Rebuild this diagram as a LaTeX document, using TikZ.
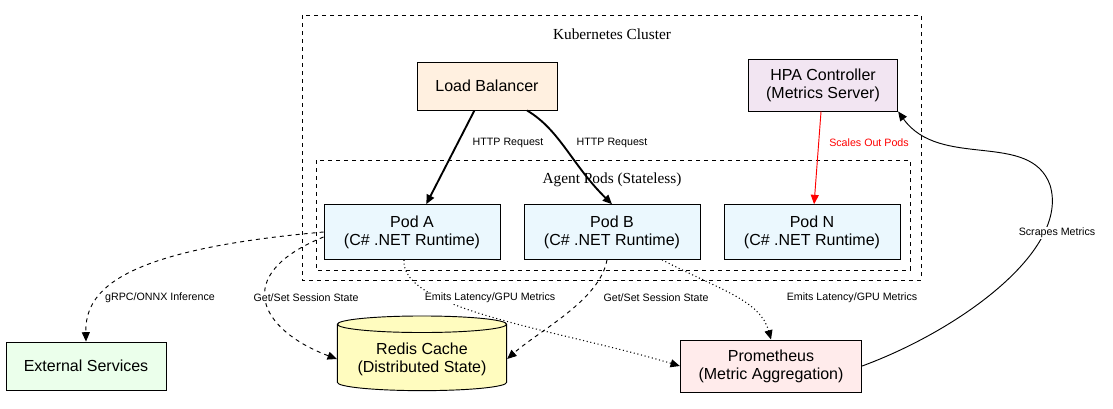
\documentclass[tikz,border=0pt]{standalone}
\usepackage{fontspec}
\setmainfont{Liberation Sans}
\newfontfamily\clusterfont{Liberation Serif}
\usetikzlibrary{shapes.geometric,arrows.meta}

\tikzset{
  box/.style={draw, minimum height=36pt, align=center, font=\fontsize{12}{13.5}\selectfont},
  cluster/.style={draw, dashed},
  lbl/.style={font=\fontsize{8}{9}\selectfont, fill=white, inner sep=1pt},
  arr/.style={-{Triangle[length=7pt,width=6pt]}}
}

\begin{document}
\begin{tikzpicture}[x=0.75pt,y=-0.75pt,line width=0.7pt]
    \useasboundingbox (0,0) rectangle (1113,408);
    % clusters
    \draw[cluster] (302,15) rectangle (921,280);
    \node[font=\clusterfont\fontsize{11.5}{12}\selectfont] (kcl) at (612,34) {Kubernetes Cluster};
    \draw[cluster] (316,160) rectangle (910,270);

    % nodes
    \node[box, fill=orange!12, minimum width=105pt] (lb) at (487,86) {Load Balancer};
    \node[box, fill=violet!10, minimum width=112pt, minimum height=39pt] (hpa) at (823,85) {HPA Controller\\(Metrics Server)};
    \node[box, fill=cyan!8, minimum width=132pt, minimum height=41pt] (poda) at (412,232) {Pod A\\(C\# .NET Runtime)};
    \node[box, fill=cyan!8, minimum width=132pt, minimum height=41pt] (podb) at (612,232) {Pod B\\(C\# .NET Runtime)};
    \node[box, fill=cyan!8, minimum width=132pt, minimum height=41pt] (podn) at (812,232) {Pod N\\(C\# .NET Runtime)};
    \node[box, fill=green!8, minimum width=120pt] (ext) at (86,366) {External Services};
    \node[box, cylinder, shape border rotate=90, aspect=0.12, fill=yellow!25, minimum width=127pt, minimum height=56pt] (redis) at (422,359) {Redis Cache\\(Distributed State)};
    \node[box, fill=red!8, minimum width=136pt, minimum height=39pt] (prom) at (771,366) {Prometheus\\(Metric Aggregation)};
    \node[font=\clusterfont\fontsize{11.5}{12}\selectfont] (agl) at (612,180) {Agent Pods (Stateless)};

    % connectors
    \draw[arr, line width=1.4pt] (lb) -- (poda);
    \node[lbl, fill=none] (hr1) at (508,143) {HTTP Request};
    \draw[arr, line width=1.4pt] (lb.south) ++(40,0) .. controls (560,130) and (572,165) .. (podb.north);
    \node[lbl, fill=none] (hr2) at (612,143) {HTTP Request};
    \draw[arr, red] (hpa) -- (podn);
    \node[lbl, text=red] (sop) at (869,143) {Scales Out Pods};
    \draw[arr] (prom.east) .. controls (960,330) and (1070,250) .. (1050,185)
      .. controls (1030,130) and (940,170) .. (hpa.south east);
    \node[lbl] (scr) at (1057,233) {Scrapes Metrics};
    \draw[arr, dashed] (poda.west) .. controls (120,250) and (85,290) .. (ext.north);
    \node[lbl] (grpc) at (160,298) {gRPC/ONNX Inference};
    \draw[arr, dashed] (poda.west) ++(0,5) .. controls (230,275) and (260,330) .. (redis.west);
    \node[lbl] (gs1) at (306,298) {Get/Set Session State};
    \draw[arr, dotted, thick] (poda.south) ++(-8,0) .. controls (400,310) and (560,330) .. (prom.west);
    \node[lbl] (em1) at (490,298) {Emits Latency/GPU Metrics};
    \draw[arr, dashed] (podb.south) ++(-5,0) .. controls (600,300) and (540,330) .. (redis.east);
    \node[lbl] (gs2) at (656,298) {Get/Set Session State};
    \draw[arr, dotted, thick] (podb.south) ++(50,0) .. controls (720,290) and (760,300) .. (prom.north);
    \node[lbl] (em2) at (852,298) {Emits Latency/GPU Metrics};
\end{tikzpicture}
\end{document}
